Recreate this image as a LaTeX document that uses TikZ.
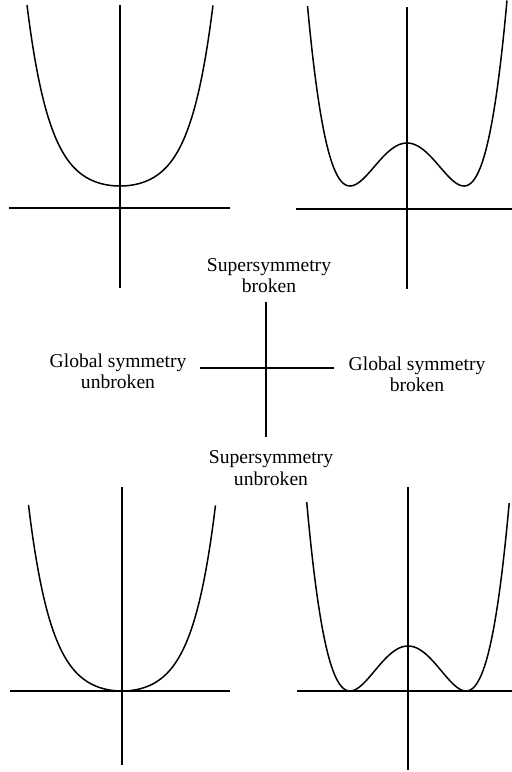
\documentclass[tikz,border=0pt]{standalone}
\usepackage{fontspec}
\setmainfont{Liberation Serif}
\begin{document}
\begin{tikzpicture}[x=0.5pt,y=-0.5pt,
  axis/.style={line width=0.9pt},
  curve/.style={line width=0.75pt},
  lbl/.style={align=center,font=\fontsize{9.8}{10.6}\selectfont,inner sep=0pt}]
\useasboundingbox (0,0) rectangle (512,772);
% top-left panel
\coordinate (a1t) at (120,5); \coordinate (a1b) at (120,288);
\coordinate (a1l) at (9,208); \coordinate (a1r) at (230,208);
\draw[axis] (a1t) -- (a1b); \draw[axis] (a1l) -- (a1r);
\draw[curve] plot[domain=-1:1,samples=121,smooth] ({120+93*\x},{186-181*(cosh(4*\x)-1)/26.308});
% top-right panel
\coordinate (a2t) at (407,7); \coordinate (a2b) at (407,289);
\coordinate (a2l) at (296,209); \coordinate (a2r) at (512,209);
\draw[axis] (a2t) -- (a2b); \draw[axis] (a2l) -- (a2r);
\draw[curve] plot[domain=-1.745:1.755,samples=141,smooth] ({407+57*\x},{186-43*(\x*\x-1)*(\x*\x-1)});
% bottom-left panel
\coordinate (a3t) at (122,487); \coordinate (a3b) at (122,765);
\coordinate (a3l) at (10,691); \coordinate (a3r) at (230,691);
\draw[axis] (a3t) -- (a3b); \draw[axis] (a3l) -- (a3r);
\draw[curve] plot[domain=-1:1,samples=121,smooth] ({122+93.5*\x},{691-186*(cosh(4*\x)-1)/26.308});
% bottom-right panel
\coordinate (a4t) at (408,487); \coordinate (a4b) at (408,770);
\coordinate (a4l) at (297,691); \coordinate (a4r) at (512,691);
\draw[axis] (a4t) -- (a4b); \draw[axis] (a4l) -- (a4r);
\draw[curve] plot[domain=-1.746:1.746,samples=141,smooth] ({408+58*\x},{691-45*(\x*\x-1)*(\x*\x-1)});
% central cross
\coordinate (ct) at (266,302); \coordinate (cb) at (266,437);
\coordinate (cl) at (200,368); \coordinate (cr) at (334,368);
\draw[axis] (ct) -- (cb); \draw[axis] (cl) -- (cr);
% labels
\node[lbl] (sb) at (269,276) {Supersymmetry\\broken};
\node[lbl] (su) at (271,468) {Supersymmetry\\unbroken};
\node[lbl] (gu) at (118,371) {Global symmetry\\unbroken};
\node[lbl] (gb) at (417,374) {Global symmetry\\broken};
\end{tikzpicture}
\end{document}
